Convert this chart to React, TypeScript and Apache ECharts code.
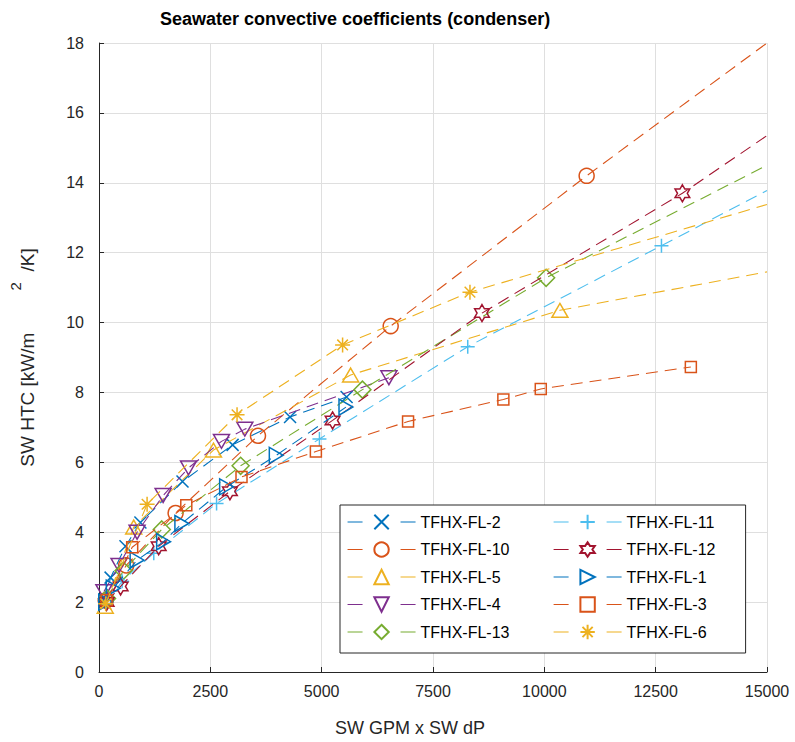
import React, { useEffect, useRef } from "react";
import * as echarts from "echarts";

// ---------- data ----------
const seriesNames = [
  "TFHX-FL-2",
  "TFHX-FL-10",
  "TFHX-FL-5",
  "TFHX-FL-4",
  "TFHX-FL-13",
  "TFHX-FL-11",
  "TFHX-FL-12",
  "TFHX-FL-1",
  "TFHX-FL-3",
  "TFHX-FL-6",
];

const fl2X = [120, 260, 595, 930, 1875, 3000, 4290, 5560];
const fl2Y = [2.05, 2.7, 3.6, 4.28, 5.45, 6.5, 7.3, 7.87];

const fl10X = [150, 610, 1720, 3570, 6550, 10950];
const fl10Y = [2.05, 3.05, 4.55, 6.76, 9.9, 14.2];

const fl5X = [140, 780, 2570, 5650, 10350];
const fl5Y = [1.88, 4.15, 6.35, 8.5, 10.35];

const fl4X = [110, 450, 855, 1440, 2010, 2750, 3275, 6510];
const fl4Y = [2.3, 3.05, 4.0, 5.05, 5.84, 6.6, 6.95, 8.42];

const fl13X = [180, 550, 1410, 3180, 5915, 10040];
const fl13Y = [2.1, 2.9, 4.08, 5.9, 8.08, 11.28];

const fl11X = [160, 520, 1230, 2640, 4950, 8280, 12630];
const fl11Y = [1.95, 2.6, 3.4, 4.82, 6.67, 9.31, 12.2];

const fl12X = [170, 485, 1340, 2940, 5245, 8600, 13100];
const fl12Y = [2.0, 2.45, 3.6, 5.17, 7.2, 10.27, 13.7];

const fl1X = [150, 320, 855, 1450, 1860, 2865, 3980, 5545];
const fl1Y = [2.0, 2.4, 3.2, 3.73, 4.25, 5.3, 6.2, 7.58];

const fl3X = [170, 745, 1960, 3200, 4870, 6940, 9080, 9920, 13290];
const fl3Y = [2.05, 3.57, 4.77, 5.58, 6.31, 7.17, 7.8, 8.1, 8.73];

const fl6X = [150, 1080, 3100, 5470, 8330];
const fl6Y = [1.95, 4.8, 7.36, 9.36, 10.87];

// end points of the dashed fit lines that run on past the last marker
// (null = the line stops at the last marker)
const fitEndX = [null, 15000, 15000, null, 15000, 15000, 15000, null, null, 15000];
const fitEndY = [null, 18.0, 11.45, null, 14.5, 13.78, 15.35, null, null, 13.38];

const xTicks = [0, 2500, 5000, 7500, 10000, 12500, 15000];
const yTicks = [0, 2, 4, 6, 8, 10, 12, 14, 16, 18];

// ---------- styling ----------
const colors = [
  "#0072BD",
  "#D95319",
  "#EDB120",
  "#7E2F8E",
  "#77AC30",
  "#4DBEEE",
  "#A2142F",
  "#0072BD",
  "#D95319",
  "#EDB120",
];

const HEXAGRAM =
  "path://M5,0L6.443,2.5L9.33,2.5L7.887,5L9.33,7.5L6.443,7.5L5,10L3.557,7.5L0.67,7.5L2.113,5L0.67,2.5L3.557,2.5Z";
const symbols = [
  "path://M0,0L10,10M10,0L0,10",
  "circle",
  "path://M5,0L10,8.66L0,8.66Z",
  "path://M0,0L10,0L5,8.66Z",
  "diamond",
  "path://M5,0L5,10M0,5L10,5",
  HEXAGRAM,
  "path://M0,0L8.66,5L0,10Z",
  "rect",
  "path://M5,0L5,10M0,5L10,5M1.46,1.46L8.54,8.54M8.54,1.46L1.46,8.54",
];
const symbolSizes = [12, 15, 16, 16, 17, 14, 17, 16, 11, 15];

const allX = [fl2X, fl10X, fl5X, fl4X, fl13X, fl11X, fl12X, fl1X, fl3X, fl6X];
const allY = [fl2Y, fl10Y, fl5Y, fl4Y, fl13Y, fl11Y, fl12Y, fl1Y, fl3Y, fl6Y];

const FONT = "'Liberation Sans', Arial, Helvetica, sans-serif";
const AXIS_COLOR = "#262626";
const W = 795;
const H = 742;

export default function App() {
  const ref = useRef<HTMLDivElement>(null);

  useEffect(() => {
    if (!ref.current) return;
    const chart = echarts.init(ref.current, undefined, { renderer: "svg", width: W, height: H });

    const series = seriesNames.map((name, i) => {
      const data: any[] = allX[i].map((x, j) => [x, allY[i][j]]);
      if (fitEndX[i] !== null) {
        data.push({ value: [fitEndX[i], fitEndY[i]], symbol: "none" });
      }
      return {
        name,
        type: "line",
        data,
        symbol: symbols[i],
        symbolSize: symbolSizes[i],
        symbolKeepAspect: true,
        showSymbol: true,
        showAllSymbol: true,
        color: colors[i],
        itemStyle: {
          color: "rgba(255,255,255,0)",
          borderColor: colors[i],
          borderWidth: 1.5,
        },
        lineStyle: { color: colors[i], width: 1.1, type: [12, 7] },
        emphasis: { disabled: true },
        z: 2 + i,
      };
    });

    chart.setOption({
      animation: false,
      backgroundColor: "#ffffff",
      textStyle: { fontFamily: FONT },
      title: {
        text: "Seawater convective coefficients (condenser)",
        left: 155,
        top: 5,
        textStyle: { fontFamily: FONT, fontSize: 18, fontWeight: "bold", color: "#000" },
      },
      grid: { left: 95, right: 28, top: 43, bottom: 68, containLabel: false },
      xAxis: {
        type: "value",
        min: 0,
        max: 15000,
        interval: 2500,
        name: "SW GPM x SW dP",
        nameLocation: "middle",
        nameGap: 47,
        nameTextStyle: { fontFamily: FONT, fontSize: 18, color: AXIS_COLOR, padding: [0, 46, 0, 0] },
        axisLine: { show: true, lineStyle: { color: AXIS_COLOR, width: 1 } },
        axisTick: { show: true, inside: true, length: 5, lineStyle: { color: AXIS_COLOR } },
        axisLabel: {
          fontFamily: FONT,
          fontSize: 16,
          color: AXIS_COLOR,
          margin: 11,
          formatter: (v: number) => (xTicks.includes(v) ? String(v) : ""),
        },
        splitLine: { show: true, lineStyle: { color: "#dfdfdf", width: 1 } },
      },
      yAxis: {
        type: "value",
        min: 0,
        max: 18,
        interval: 2,
        name: "SW HTC [kW/m        {s|2}  /K]",
        nameLocation: "middle",
        nameGap: 52,
        nameRotate: 90,
        nameTextStyle: {
          fontFamily: FONT,
          fontSize: 19,
          color: AXIS_COLOR,
          rich: {
            s: { fontFamily: FONT, fontSize: 15, color: AXIS_COLOR, padding: [0, 0, 24, 0] },
          },
        },
        axisLine: { show: true, lineStyle: { color: AXIS_COLOR, width: 1 } },
        axisTick: { show: true, inside: true, length: 5, lineStyle: { color: AXIS_COLOR } },
        axisLabel: {
          fontFamily: FONT,
          fontSize: 16,
          color: AXIS_COLOR,
          margin: 15,
          formatter: (v: number) => (yTicks.includes(v) ? String(v) : ""),
        },
        splitLine: { show: true, lineStyle: { color: "#dfdfdf", width: 1 } },
      },
      legend: {
        show: true,
        orient: "vertical",
        left: 340,
        top: 505,
        height: 135,
        padding: [7, 7, 11, 7],
        itemWidth: 68,
        itemHeight: 18,
        itemGap: 7.5,
        backgroundColor: "#ffffff",
        borderColor: AXIS_COLOR,
        borderWidth: 1,
        borderRadius: 0,
        data: seriesNames,
        lineStyle: { type: [15, 38], width: 1.1 },
        formatter: (name: string) =>
          seriesNames.indexOf(name) < 5 ? `{t|${name}}` : `{u|${name}}`,
        textStyle: {
          fontFamily: FONT,
          fontSize: 16,
          color: "#000",
          rich: {
            t: { fontFamily: FONT, fontSize: 16, color: "#000", width: 125, height: 20, lineHeight: 20 },
            u: { fontFamily: FONT, fontSize: 16, color: "#000", width: 112, height: 20, lineHeight: 20 },
          },
        },
      },
      series,
    });

    return () => chart.dispose();
  }, []);

  return (
    <div
      ref={ref}
      style={{ position: "fixed", left: 0, top: 0, width: W, height: H, background: "#fff" }}
    />
  );
}
